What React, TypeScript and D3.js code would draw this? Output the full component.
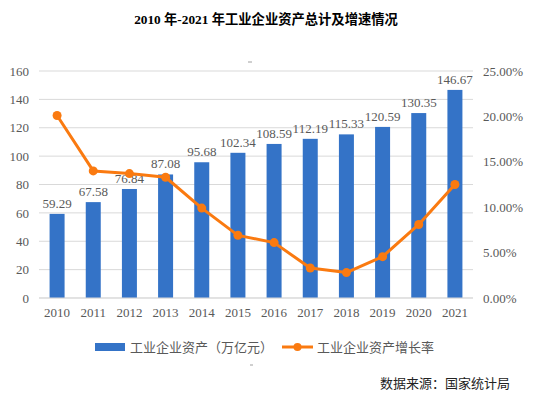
import React, { useRef, useEffect } from 'react'
import * as d3 from 'd3'

const years = ['2010', '2011', '2012', '2013', '2014', '2015', '2016', '2017', '2018', '2019', '2020', '2021']
const assets = [59.29, 67.58, 76.84, 87.08, 95.68, 102.34, 108.59, 112.19, 115.33, 120.59, 130.35, 146.67]
const growth = [20.1, 14.0, 13.7, 13.3, 9.9, 6.9, 6.1, 3.3, 2.8, 4.55, 8.1, 12.5]
const leftTicks = [0, 20, 40, 60, 80, 100, 120, 140, 160]
const rightTicks = [0, 5, 10, 15, 20, 25]

const title = '2010 年-2021 年工业企业资产总计及增速情况'
const barLegend = '工业企业资产（万亿元）'
const lineLegend = '工业企业资产增长率'
const source = '数据来源：国家统计局'

export default function App() {
    const visEl = useRef<HTMLDivElement>(null)
    const width = 556
    const height = 397

    useEffect(() => {
        const root = d3.select(visEl.current)
        root.selectAll('*').remove()
        const svg = root.append('svg')
            .attr('width', width)
            .attr('height', height)
            .style('display', 'block')

        const serif = '"Liberation Serif", "Times New Roman", serif'
        const cjk = '"Noto Sans CJK SC", sans-serif'
        const grey = '#595959'
        const blue = '#3473C7'
        const orange = '#FA7A10'

        const left = 39, right = 473, top = 71, bottom = 298

        const x = d3.scaleBand().domain(years).range([left, right])
        const yL = d3.scaleLinear().domain([0, 160]).range([bottom, top])
        const yR = d3.scaleLinear().domain([0, 25]).range([bottom, top])

        svg.append('text')
            .attr('x', 266).attr('y', 24)
            .attr('text-anchor', 'middle')
            .attr('font-family', `"Liberation Serif", ${cjk}`)
            .attr('font-weight', 'bold')
            .attr('font-size', 13.3)
            .attr('fill', '#000')
            .text(title)

        // little stray marks from the original scan
        svg.append('line').attr('x1', 248).attr('x2', 252).attr('y1', 62).attr('y2', 62)
            .attr('stroke', '#888').attr('stroke-width', 0.8)
        svg.append('line').attr('x1', 250).attr('x2', 253).attr('y1', 365).attr('y2', 365)
            .attr('stroke', '#888').attr('stroke-width', 0.8)

        // gridlines
        svg.append('g').selectAll('line').data(leftTicks).enter().append('line')
            .attr('x1', left).attr('x2', right)
            .attr('y1', d => yL(d)).attr('y2', d => yL(d))
            .attr('stroke', '#d9d9d9').attr('stroke-width', 1)

        const yAxisL = d3.axisLeft(yL).tickValues(leftTicks).tickSize(0).tickPadding(10)
        const gL = svg.append('g').attr('transform', `translate(${left},0)`).call(yAxisL)
        gL.select('.domain').remove()
        gL.selectAll('text').attr('font-family', serif).attr('font-size', 13).attr('fill', grey)

        const yAxisR = d3.axisRight(yR).tickValues(rightTicks).tickSize(0).tickPadding(10)
            .tickFormat(d => `${(+d).toFixed(2)}%`)
        const gR = svg.append('g').attr('transform', `translate(${right},0)`).call(yAxisR)
        gR.select('.domain').remove()
        gR.selectAll('text').attr('font-family', serif).attr('font-size', 13).attr('fill', grey)

        const xAxis = d3.axisBottom(x).tickSize(0).tickPadding(10)
        const gX = svg.append('g').attr('transform', `translate(0,${bottom})`).call(xAxis)
        gX.select('.domain').remove()
        gX.selectAll('text').attr('font-family', serif).attr('font-size', 13).attr('fill', grey)

        const barW = 15
        svg.append('g').selectAll('rect').data(assets).enter().append('rect')
            .attr('x', (d, i) => x(years[i])! + x.bandwidth() / 2 - barW / 2)
            .attr('y', d => yL(d))
            .attr('width', barW)
            .attr('height', d => bottom - yL(d))
            .attr('fill', blue)

        svg.append('line').attr('x1', left).attr('x2', right).attr('y1', bottom).attr('y2', bottom)
            .attr('stroke', '#d9d9d9')

        svg.append('g').selectAll('text').data(assets).enter().append('text')
            .attr('x', (d, i) => x(years[i])! + x.bandwidth() / 2)
            .attr('y', d => yL(d) - 6)
            .attr('text-anchor', 'middle')
            .attr('font-family', serif)
            .attr('font-size', 13)
            .attr('fill', grey)
            .text(d => d.toFixed(2))

        const line = d3.line<number>()
            .x((d, i) => x(years[i])! + x.bandwidth() / 2)
            .y(d => yR(d))
        svg.append('path').datum(growth)
            .attr('d', line)
            .attr('fill', 'none')
            .attr('stroke', orange)
            .attr('stroke-width', 3)
            .attr('stroke-linejoin', 'round')
        svg.append('g').selectAll('circle').data(growth).enter().append('circle')
            .attr('cx', (d, i) => x(years[i])! + x.bandwidth() / 2)
            .attr('cy', d => yR(d))
            .attr('r', 4.5)
            .attr('fill', orange)

        // legend
        const lg = svg.append('g')
        lg.append('rect').attr('x', 95).attr('y', 343).attr('width', 30).attr('height', 8).attr('fill', blue)
        lg.append('text').attr('x', 130).attr('y', 352)
            .attr('font-family', cjk).attr('font-size', 13).attr('fill', grey).text(barLegend)
        lg.append('line').attr('x1', 282).attr('x2', 313).attr('y1', 347).attr('y2', 347)
            .attr('stroke', orange).attr('stroke-width', 3)
        lg.append('circle').attr('cx', 297.5).attr('cy', 347).attr('r', 4).attr('fill', orange)
        lg.append('text').attr('x', 317).attr('y', 352)
            .attr('font-family', cjk).attr('font-size', 13).attr('fill', grey).text(lineLegend)

        svg.append('text').attr('x', 510).attr('y', 388)
            .attr('text-anchor', 'end')
            .attr('font-family', cjk).attr('font-size', 13).attr('fill', '#222')
            .text(source)
    }, [])

    return (
        <div style={{ position: 'absolute', left: 0, top: 0 }}>
            <div ref={visEl}></div>
        </div>
    )
}
